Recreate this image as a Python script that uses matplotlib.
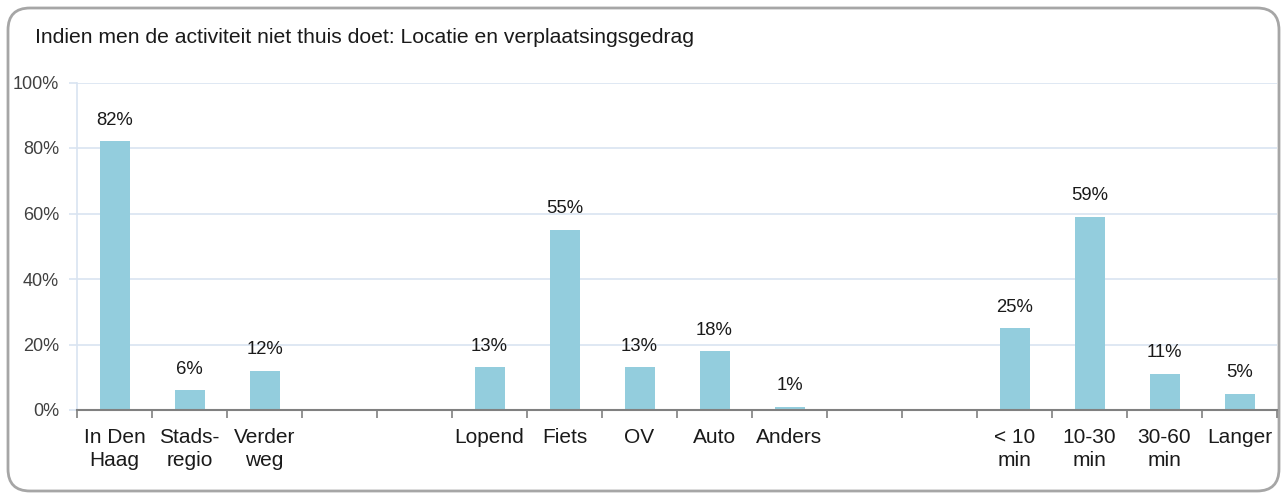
import matplotlib
matplotlib.use("Agg")
import matplotlib.pyplot as plt
import numpy as np
from matplotlib.patches import FancyBboxPatch
from matplotlib.transforms import IdentityTransform
from matplotlib.ticker import FixedLocator

categories = ["In Den\nHaag", "Stads-\nregio", "Verder\nweg", "", "", "Lopend", "Fiets", "OV",
              "Auto", "Anders", "", "", "< 10\nmin", "10-30\nmin", "30-60\nmin", "Langer"]
values = [82, 6, 12, np.nan, np.nan, 13, 55, 13, 18, 1, np.nan, np.nan, 25, 59, 11, 5]
title = "Indien men de activiteit niet thuis doet: Locatie en verplaatsingsgedrag"
yticks = [0, 20, 40, 60, 80, 100]

plt.rcParams['font.family'] = ['Liberation Sans', 'DejaVu Sans']

W, H = 1283, 499
fig = plt.figure(figsize=(W / 100, H / 100), dpi=100)

# rounded border (pixel coordinates, origin bottom-left)
border = FancyBboxPatch((8, 8), 1279 - 8, 491 - 8,
                        boxstyle="round,pad=0,rounding_size=22",
                        transform=IdentityTransform(), facecolor="none",
                        edgecolor="#a6a6a6", linewidth=2, zorder=-1)
fig.patches.append(border)

ax = fig.add_axes([77 / W, (H - 410) / H, (1277 - 77) / W, (410 - 82.5) / H])
ax.set_facecolor("none")

x = np.arange(len(categories))
ax.bar(x, values, width=0.4, color="#93CDDD", zorder=3)

for xi, v in zip(x, values):
    if not np.isnan(v):
        ax.annotate(f"{int(v)}%", (xi, v), xytext=(0, 9), textcoords="offset points",
                    ha="center", va="bottom", fontsize=13.3, color="#1a1a1a")

ax.set_xlim(-0.5, len(categories) - 0.5)
ax.set_ylim(0, 100)
ax.set_xticks(x)
ax.set_xticklabels(categories, fontsize=15, color="#1a1a1a", linespacing=1.25)
ax.tick_params(axis="x", which="major", length=0, pad=13)
ax.xaxis.set_minor_locator(FixedLocator(np.arange(-0.5, len(categories), 1)))
ax.tick_params(axis="x", which="minor", length=6, color="#808080", width=1.2)

ax.set_yticks(yticks)
ax.set_yticklabels([f"{t}%" for t in yticks], fontsize=13, color="#404040")
ax.tick_params(axis="y", length=6, color="#d9e4f1", width=1.2, pad=7)

ax.grid(axis="y", color="#d9e4f1", linewidth=1.2, zorder=0)
ax.set_axisbelow(True)
for s in ["top", "right"]:
    ax.spines[s].set_visible(False)
ax.spines["left"].set_color("#d9e4f1")
ax.spines["left"].set_linewidth(1.2)
ax.spines["bottom"].set_color("#808080")
ax.spines["bottom"].set_linewidth(1.5)
ax.spines["bottom"].set_zorder(4)

fig.text(35 / W, 1 - 43 / H, title, fontsize=15.2, color="#1a1a1a", ha="left", va="baseline")

fig.savefig("out.png", dpi=100)
